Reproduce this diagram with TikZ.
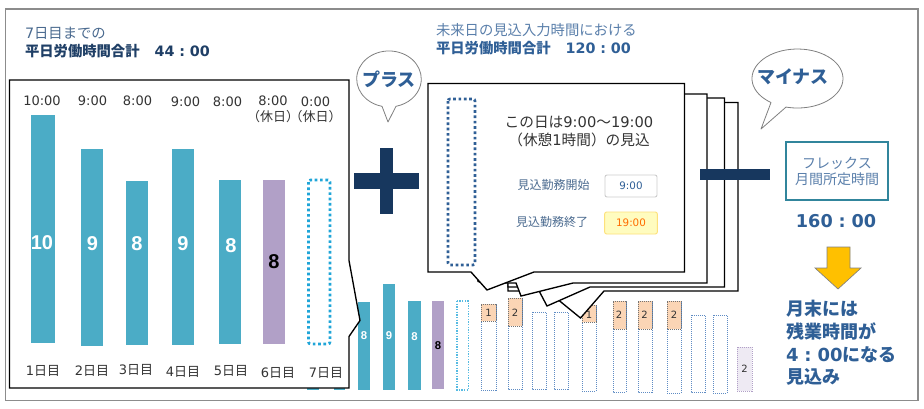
\documentclass[tikz,border=0pt]{standalone}
\usepackage{fontspec}
\setmainfont{DejaVu Sans}
\newfontfamily\cjk{Noto Sans CJK JP}
\newfontfamily\lat{DejaVu Sans}
\newfontfamily\ari{Liberation Sans}
\newcommand\lt[1]{{\lat #1}}
\newcommand\fz[2]{\fontsize{#1}{#2}\selectfont}
\definecolor{navy}{HTML}{17375E}
\definecolor{teal}{HTML}{4BACC6}
\definecolor{purp}{HTML}{B1A0C7}
\definecolor{peach}{HTML}{FBD5B5}
\definecolor{blueA}{HTML}{2F5F96}
\definecolor{blueB}{HTML}{4A6A8F}
\definecolor{blueC}{HTML}{5A7FAB}
\definecolor{dark}{HTML}{1F3F66}
\definecolor{ink}{HTML}{333333}
\definecolor{dotb}{HTML}{5F8CC4}
\definecolor{sky}{HTML}{1FA5D8}
\tikzset{
  txt/.style={inner sep=0pt,outer sep=0pt,align=center},
  time/.style={txt,text=ink,font=\lat\fz{9.75}{12}},
  rest/.style={txt,text=ink,font=\cjk\fz{9.75}{12}},
  day/.style={txt,text=ink,font=\cjk\fz{9.75}{12}},
  big/.style={txt,text=white,font=\ari\bfseries\fz{15}{18}},
  bigk/.style={big,text=black},
  small/.style={txt,text=white,font=\ari\bfseries\fz{8.5}{10}},
  smallk/.style={small,text=black},
  tiny/.style={txt,text=ink,font=\lat\fz{7.5}{9}},
  solidbar/.style={fill=#1,draw=none},
  dotbar/.style={draw=dotb,line width=0.75pt,dash pattern=on 0.75pt off 0.75pt},
  peachtop/.style={fill=peach,draw=black!55,line width=0.75pt,dash pattern=on 0.75pt off 0.75pt},
  page/.style={draw=black,fill=white,line width=1pt,line join=miter},
  balloon/.style={draw=gray,fill=white,line width=0.6pt,line join=round},
  shout/.style={txt,text=blueA,font=\cjk\bfseries\fz{13.5}{16}},
  field/.style={txt,text=blueB,font=\cjk\fz{9}{11}},
}
\begin{document}
\begin{tikzpicture}[x=0.75pt,y=-0.75pt]
\useasboundingbox (0,0) rectangle (924,408);
\fill[white] (0,0) rectangle (924,408);
\draw[draw=gray!90,line width=0.9pt] (5.5,9) rectangle (918,400.5);

% headings
\node[txt,anchor=west,align=left,text=blueB,font=\cjk\fz{10.75}{13.5}] (headA) at (25,43)
  {\lt{7}日目までの\\{\color{dark}\bfseries 平日労働時間合計\hspace{1.05em}\lt{44\hspace{0.33em}:\hspace{0.33em}00}}};
\node[txt,anchor=west,align=left,text=blueC,font=\cjk\fz{10.75}{13.5}] (headB) at (436,39)
  {未来日の見込入力時間における\\{\color{blueA}\bfseries 平日労働時間合計\hspace{1.05em}\lt{120\hspace{0.33em}:\hspace{0.33em}00}}};

% small bars (background row)
\path[solidbar=teal] (307,340) rectangle (319,390);
\path[solidbar=teal] (334,340) rectangle (345,390);
\path[solidbar=teal] (358,302) rectangle (370,390);
\path[solidbar=teal] (383,284) rectangle (395,390);
\path[solidbar=teal] (408,301) rectangle (421,390);
\path[solidbar=purp] (432,301) rectangle (444,389);
\draw[draw=sky!75,line width=1pt,dash pattern=on 1pt off 1pt] (457,301) rectangle (468.5,390);
\draw[dotbar] (481,304) rectangle (496,390);
\draw[dotbar] (508,298) rectangle (522,389);
\draw[dotbar] (532,312) rectangle (546,389);
\draw[dotbar] (554,312) rectangle (568,389);
\draw[dotbar] (582,305) rectangle (596,391);
\draw[dotbar] (613,301) rectangle (626,392);
\draw[dotbar] (638,301) rectangle (652,392);
\draw[dotbar] (667,301) rectangle (681,393);
\draw[dotbar] (691,315) rectangle (705,392);
\draw[dotbar] (713,315) rectangle (727,393);
\path[peachtop] (481,304) -- (496,304) -- (496,321) -- (481,321) -- cycle;
\path[peachtop] (508,298) -- (522,298) -- (522,326) -- (508,326) -- cycle;
\path[peachtop] (582,305) -- (596,305) -- (596,322) -- (582,322) -- cycle;
\path[peachtop] (613,301) -- (626,301) -- (626,329) -- (613,329) -- cycle;
\path[peachtop] (638,301) -- (652,301) -- (652,329) -- (638,329) -- cycle;
\path[peachtop] (667,301) -- (681,301) -- (681,329) -- (667,329) -- cycle;
\path[fill=purp!22] (737,347) rectangle (752,391);
\draw[dotbar,draw=purp] (737,347) rectangle (752,391);
\node[small] (s1) at (364,336) {8};
\node[small] (s2) at (389,336) {9};
\node[small] (s3) at (414.5,337) {8};
\node[smallk] (s4) at (438,346) {8};
\node[tiny] (t1) at (488.5,313) {1};
\node[tiny] (t2) at (515,313) {2};
\node[tiny] (t3) at (589,315) {1};
\node[tiny] (t4) at (619,315) {2};
\node[tiny] (t5) at (644.5,315) {2};
\node[tiny] (t6) at (674,315) {2};
\node[tiny] (t7) at (744.5,369) {2};

% large panel
\draw[page] (9.5,80) -- (349,80) -- (349,260.5) -- (360,320.5) -- (349,336.5) -- (349,388) -- (9.5,388) -- cycle;
\path[solidbar=teal] (31,115) rectangle (55,343);
\path[solidbar=teal] (81,149) rectangle (103,346);
\path[solidbar=teal] (125.5,181) rectangle (148,345);
\path[solidbar=teal] (172,149) rectangle (193.5,345);
\path[solidbar=teal] (219,180) rectangle (241,344);
\path[solidbar=purp] (263,180) rectangle (285,344);
\draw[draw=sky,line width=2pt,dash pattern=on 2pt off 2pt,rounded corners=1.5pt] (308.5,180) rectangle (330,344);
\node[big] (b1) at (42,243) {10};
\node[big] (b2) at (92.5,244) {9};
\node[big] (b3) at (137,244) {8};
\node[big] (b4) at (183,244) {9};
\node[big] (b5) at (231,246) {8};
\node[bigk] (b6) at (274,262) {8};
\node[time] (h1) at (42,101) {10:00};
\node[time] (h2) at (92.5,101) {9:00};
\node[time] (h3) at (137.5,101) {8:00};
\node[time] (h4) at (185.5,102) {9:00};
\node[time] (h5) at (227.5,102) {8:00};
\node[time] (h6) at (273,101) {8:00};
\node[time] (h7) at (315.5,102) {0:00};
\node[rest] (r1) at (273,117) {（休日）};
\node[rest] (r2) at (315.5,117) {（休日）};
\node[day] (d1) at (43,371) {\lt{1}日目};
\node[day] (d2) at (92,371) {\lt{2}日目};
\node[day] (d3) at (136,370) {\lt{3}日目};
\node[day] (d4) at (183,372) {\lt{4}日目};
\node[day] (d5) at (231,371) {\lt{5}日目};
\node[day] (d6) at (278,373) {\lt{6}日目};
\node[day] (d7) at (326,373) {\lt{7}日目};

% stacked speech pages
\draw[page] (508,102.5) -- (738,102.5) -- (738,291) -- (604,291) -- (580.5,318) -- (556,298) -- (545,291) -- (508,291) -- cycle;
\draw[page] (508,98) -- (724.5,98) -- (724.5,287) -- (590,287) -- (547,306) -- (537,287) -- (508,287) -- cycle;
\draw[page] (505,94) -- (707,94) -- (707,283) -- (573,283) -- (521,296) -- (516,283) -- (505,283) -- cycle;
\fill[black] (476.5,276) -- (481,283) -- (477.5,282) -- cycle;
\draw[page] (428,83.5) -- (684.5,83.5) -- (684.5,272) -- (534,272) -- (487,290) -- (471,272) -- (428,272) -- cycle;
\draw[draw=blueA,line width=2pt,dash pattern=on 2pt off 2pt,rounded corners=1.5pt] (448,99) rectangle (475,265);
\node[txt,text=ink,font=\cjk\fz{11}{13.5}] (msg) at (579,132) {この日は\lt{9:00}〜\lt{19:00}\\（休憩\lt{1}時間）の見込};
\node[field] (f1) at (553.5,185) {見込勤務開始};
\node[field] (f2) at (552,222) {見込勤務終了};
\node[draw=black!20,fill=white,rounded corners=1.5pt,line width=0.7pt,minimum width=39pt,minimum height=16.5pt,inner sep=0pt,text=blueA,font=\lat\fz{7.75}{9}] (v1) at (631,186) {9:00};
\node[draw=yellow!60!orange!50,fill=yellow!25,rounded corners=1.5pt,line width=0.7pt,minimum width=39.5pt,minimum height=16.5pt,inner sep=0pt,text=orange!85!red,font=\lat\fz{7.75}{9}] (v2) at (631,223) {19:00};

% operators
\fill[navy] (380,148) rectangle (393,213.5);
\fill[navy] (354,173) rectangle (419,188.5);
\fill[navy] (700,169) rectangle (769.5,180);

% balloons
\draw[balloon] (382,106.3) arc[start angle=102.5,end angle=437.5,x radius=32.3,y radius=28] -- (388,122) -- cycle;
\node[shout] (plus) at (389,79) {プラス};
\draw[balloon] (771,102.5) arc[start angle=125.6,end angle=464.6,x radius=45.5,y radius=29.5] -- (761,129) -- cycle;
\node[shout] (minus) at (793,77) {マイナス};

% right column
\node[draw={rgb,255:red,49;green,133;blue,156},line width=1.5pt,minimum width=76.5pt,minimum height=43.5pt,inner sep=0pt,align=center,text=blueC,font=\cjk\fz{10.5}{12}] (flex) at (837,171) {フレックス\\月間所定時間};
\node[txt,text=blueA,font=\lat\bfseries\fz{13.25}{15}] (total) at (836,221) {160\hspace{0.33em}:\hspace{0.33em}00};
\draw[fill={rgb,255:red,255;green,192;blue,0},draw=gray,line width=0.5pt] (827,247) -- (850,247) -- (850,268) -- (861,268) -- (838,289) -- (815,268) -- (827,268) -- cycle;
\node[txt,anchor=west,align=left,text=blueA,font=\cjk\bfseries\fz{13.5}{17}] (result) at (786,343) {月末には\\残業時間が\\\lt{4\hspace{0.33em}:\hspace{0.33em}00}になる\\見込み};
\end{tikzpicture}
\end{document}
